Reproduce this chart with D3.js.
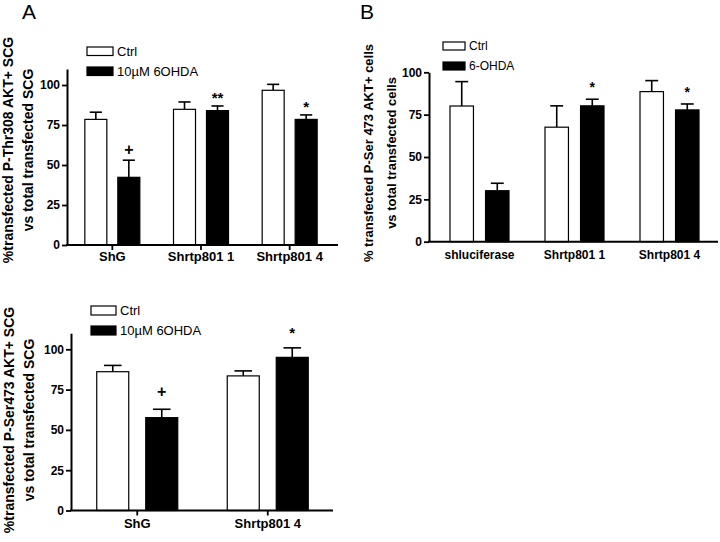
<!DOCTYPE html>
<html>
<head>
<meta charset="utf-8">
<script src="https://cdn.jsdelivr.net/npm/d3@7"></script>
<style>
  body { margin: 0; background: #fff; }
  svg { font-family: Arial, "Liberation Sans", sans-serif; }
</style>
</head>
<body>
<svg id="fig" width="720" height="542"></svg>
<script>
// ---- data ----
const yTicks = [0, 25, 50, 75, 100];

// panel A (top left)
const groupsA = ["ShG", "Shrtp801 1", "Shrtp801 4"];
const seriesA = ["Ctrl", "10\u00B5M 6OHDA"];
const ctrlA = [78.5, 84.8, 96.7];
const ctrlErrA = [4.5, 4.6, 3.7];
const treatA = [42.3, 84.0, 78.5];
const treatErrA = [10.7, 2.9, 2.8];
const marksA = ["+", "**", "*"];

// panel B (top right)
const groupsB = ["shluciferase", "Shrtp801 1", "Shrtp801 4"];
const seriesB = ["Ctrl", "6-OHDA"];
const ctrlB = [80.1, 67.6, 88.6];
const ctrlErrB = [14.4, 12.6, 6.5];
const treatB = [30.1, 80.2, 77.8];
const treatErrB = [4.4, 3.9, 3.5];
const marksB = ["", "*", "*"];

// panel C (bottom left)
const groupsC = ["ShG", "Shrtp801 4"];
const seriesC = ["Ctrl", "10\u00B5M 6OHDA"];
const ctrlC = [86.1, 83.5];
const ctrlErrC = [3.9, 3.1];
const treatC = [57.6, 95.0];
const treatErrC = [5.2, 5.9];
const marksC = ["+", "*"];

const svg = d3.select("#fig");

function drawPanel(p) {
    const g = svg.append("g");

    const y = d3.scaleLinear().domain([0, p.yMax]).range([p.y0, p.y0 - p.pxPerUnit * p.yMax]);
    const x0 = d3.scaleBand().domain(p.groups).range(p.xBand).padding(0);
    const x1 = d3.scaleBand().domain([0, 1]).range([-p.inner / 2, p.inner / 2]).paddingInner(p.innerPad);

    // one row per bar
    const rows = [];
    p.groups.forEach((grp, i) => {
        rows.push({grp: grp, s: 0, v: p.ctrl[i], e: p.ctrlErr[i], m: ""});
        rows.push({grp: grp, s: 1, v: p.treat[i], e: p.treatErr[i], m: p.marks[i]});
    });
    const cx = d => x0(d.grp) + x0.bandwidth() / 2 + x1(d.s);

    const bw = x1.bandwidth();
    const capW = bw * 0.55;

    // error bars (upper only)
    g.selectAll(".err").data(rows).enter().append("line")
        .attr("x1", d => cx(d) + bw / 2).attr("x2", d => cx(d) + bw / 2)
        .attr("y1", d => y(d.v)).attr("y2", d => y(d.v + d.e))
        .attr("stroke", "#000").attr("stroke-width", 1.6);
    g.selectAll(".cap").data(rows).enter().append("line")
        .attr("x1", d => cx(d) + bw / 2 - capW / 2).attr("x2", d => cx(d) + bw / 2 + capW / 2)
        .attr("y1", d => y(d.v + d.e)).attr("y2", d => y(d.v + d.e))
        .attr("stroke", "#000").attr("stroke-width", 1.6);

    g.selectAll(".bar").data(rows).enter().append("rect")
        .attr("x", d => cx(d)).attr("width", bw)
        .attr("y", d => y(d.v)).attr("height", d => y(0) - y(d.v))
        .attr("fill", d => d.s === 0 ? "#fff" : "#000")
        .attr("stroke", "#000").attr("stroke-width", 1.2);

    // significance marks
    g.selectAll(".mark").data(rows.filter(d => d.m)).enter().append("text")
        .attr("x", d => cx(d) + bw / 2)
        .attr("y", d => y(d.v + d.e) - (d.m === "+" ? p.plusGap : p.starGap))
        .attr("text-anchor", "middle")
        .attr("font-weight", "bold")
        .attr("font-size", d => d.m === "+" ? 16 : p.starSize)
        .text(d => d.m);

    // y axis
    const ya = g.append("g").attr("transform", `translate(${p.axisX},0)`)
        .call(d3.axisLeft(y).tickValues(yTicks).tickSize(5).tickPadding(2).tickSizeOuter(0));
    ya.select(".domain").attr("stroke-width", 2);
    ya.selectAll(".tick line").attr("stroke-width", 1.8);
    ya.selectAll("text").attr("font-size", 12).attr("font-weight", "bold")
        .attr("font-family", "Arial, 'Liberation Sans', sans-serif").attr("fill", "#000");

    // x axis
    const xa = g.append("g").attr("transform", `translate(0,${p.y0})`)
        .call(d3.axisBottom(x0).tickSize(p.xTick).tickPadding(p.xPad).tickSizeOuter(0));
    xa.select(".domain").remove();
    xa.selectAll(".tick line").attr("stroke-width", 1.8);
    xa.selectAll("text").attr("font-size", p.xFont).attr("font-weight", "bold")
        .attr("font-family", "Arial, 'Liberation Sans', sans-serif").attr("fill", "#000");
    g.append("line")
        .attr("x1", p.axisX - 1).attr("x2", p.axisEnd)
        .attr("y1", p.y0).attr("y2", p.y0)
        .attr("stroke", "#000").attr("stroke-width", 2);

    // legend
    p.series.forEach((s, i) => {
        g.append("rect")
            .attr("x", p.legX).attr("y", p.legY + i * p.legStep)
            .attr("width", p.legW).attr("height", p.legH)
            .attr("fill", i === 0 ? "#fff" : "#000")
            .attr("stroke", "#000").attr("stroke-width", 1.2);
        g.append("text")
            .attr("x", p.legX + p.legW + 4).attr("y", p.legY + i * p.legStep + p.legH / 2)
            .attr("dy", "0.36em").attr("font-size", p.legFont)
            .text(s);
    });

    // y label, two lines
    p.yLabel.forEach((t, i) => {
        g.append("text")
            .attr("transform", `translate(${p.yLabX[i]},${p.yLabMid}) rotate(-90)`)
            .attr("text-anchor", "middle")
            .attr("font-weight", "bold").attr("font-size", p.yLabFont)
            .text(t);
    });

    if (p.letter) {
        g.append("text").attr("x", p.letter[1]).attr("y", p.letter[2])
            .attr("font-size", 21).text(p.letter[0]);
    }
}

drawPanel({
    groups: groupsA, series: seriesA, ctrl: ctrlA, ctrlErr: ctrlErrA,
    treat: treatA, treatErr: treatErrA, marks: marksA,
    yMax: 110, y0: 245, pxPerUnit: 1.6,
    axisX: 67, axisEnd: 338, xBand: [68, 334], inner: 55, innerPad: 0.333,
    xTick: 5, xPad: 2, xFont: 13,
    plusGap: 5, starGap: 3, starSize: 15,
    legX: 87, legY: 47, legStep: 20, legW: 26, legH: 8.5, legFont: 13,
    yLabel: ["%transfected P-Thr308 AKT+ SCG", "vs total transfected SCG"],
    yLabX: [13, 33], yLabMid: 150, yLabFont: 14,
    letter: ["A", 22, 19]
});

drawPanel({
    groups: groupsB, series: seriesB, ctrl: ctrlB, ctrlErr: ctrlErrB,
    treat: treatB, treatErr: treatErrB, marks: marksB,
    yMax: 100, y0: 241.7, pxPerUnit: 1.694,
    axisX: 429, axisEnd: 718, xBand: [432, 717], inner: 59, innerPad: 0.34,
    xTick: 0, xPad: 9, xFont: 12,
    plusGap: 5, starGap: 7, starSize: 14,
    legX: 443, legY: 42, legStep: 20, legW: 22, legH: 8, legFont: 12,
    yLabel: ["% transfected P-Ser 473 AKT+ cells", "vs  total transfected cells"],
    yLabX: [373, 396], yLabMid: 153, yLabFont: 13,
    letter: ["B", 360, 19]
});

drawPanel({
    groups: groupsC, series: seriesC, ctrl: ctrlC, ctrlErr: ctrlErrC,
    treat: treatC, treatErr: treatErrC, marks: marksC,
    yMax: 110, y0: 510.5, pxPerUnit: 1.612,
    axisX: 71, axisEnd: 333, xBand: [72, 333], inner: 81, innerPad: 0.347,
    xTick: 5, xPad: 3, xFont: 13,
    plusGap: 12, starGap: 10, starSize: 15,
    legX: 91, legY: 306, legStep: 20, legW: 25, legH: 9, legFont: 13,
    yLabel: ["%transfected P-Ser473 AKT+ SCG", "vs total transfected SCG"],
    yLabX: [14, 34], yLabMid: 420, yLabFont: 14,
    letter: null
});
</script>
</body>
</html>
